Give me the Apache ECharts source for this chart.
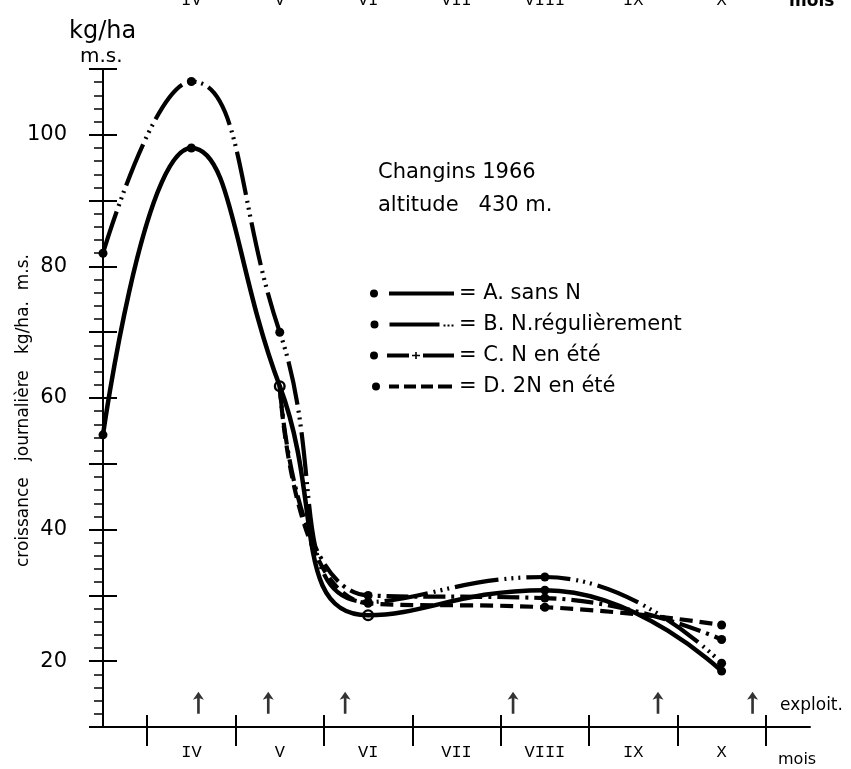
<!DOCTYPE html>
<html><head><meta charset="utf-8">
<script src="https://cdn.jsdelivr.net/npm/echarts@6/dist/echarts.min.js"></script>
<style>html,body{margin:0;padding:0;background:#fff}#c{width:851px;height:769px}</style>
</head><body><div id="c"></div><script>
// ---- data ----
const monthLabels = ['IV','V','VI','VII','VIII','IX','X'];
const monthCenters = [0.5,1.5,2.5,3.5,4.5,5.5,6.5];
const monthBounds = [0,1,2,3,4,5,6,7];
const yLabelValues = [20,40,60,80,100];
const seriesNames = ['A. sans N','B. N.régulièrement','C. N en été','D. 2N en été'];
const xA = [-0.5,0.5,1.5,2.5,4.5,6.5];
const valA = [54.4,98.0,61.8,27.0,30.8,18.5];
const xB = [-0.5,0.5,1.5,2.5,4.5,6.5];
const valB = [82.0,108.1,70.0,29.0,32.8,19.7];
const xC = [1.5,2.5,4.5,6.5];
const valC = [61.8,30.0,29.6,23.3];
const xD = [1.5,2.5,4.5,6.5];
const valD = [61.8,28.8,28.2,25.5];
const exploitX = [0.58,1.37,2.24,4.14,5.78,6.85];
const exploitY = 13.7;
const ringMonths = [1.5,2.5];

// ---- build ----
const FONT = 'DejaVu Sans';
const ring = 'path://M0,-10A10,10 0 1,1 0,10A10,10 0 1,1 0,-10Z M0,-6A6,6 0 1,0 0,6A6,6 0 1,0 0,-6Z M0,-3A3,3 0 1,1 0,3A3,3 0 1,1 0,-3Z';
function pts(xs, vs, opts) {
  return xs.map((x, i) => {
    const o = {value: [x, vs[i]]};
    if (opts && opts.ring && ringMonths.indexOf(x) >= 0) { o.symbol = ring; o.symbolSize = 12; }
    if (opts && opts.hideFirst && i === 0) { o.symbol = 'none'; }
    return o;
  });
}
const icons = [
  'path://M0,5A4,4 0 1,1 8,5A4,4 0 1,1 0,5Z M19,3H84V7H19Z',
  'path://M0,5A4,4 0 1,1 8,5A4,4 0 1,1 0,5Z M19,3H69V7H19Z M73,5H75V7H73Z M77,5H79V7H77Z M81,5H83V7H81Z',
  'path://M0,5A4,4 0 1,1 8,5A4,4 0 1,1 0,5Z M17,3H39V7H17Z M42,4.2H50V5.8H42Z M45.2,1.5H46.8V8.5H45.2Z M53,3H84V7H53Z',
  'path://M0,5A4,4 0 1,1 8,5A4,4 0 1,1 0,5Z M17,3H27V7H17Z M32,3H44V7H32Z M49,3H61V7H49Z M66,3H80V7H66Z'
];
const lineTypes = ['solid', [44,6,2,5,2,5,2,6], [22,6,3,6], [13,7]];
const dataSets = [pts(xA,valA,{ring:true}), pts(xB,valB), pts(xC,valC,{hideFirst:true}), pts(xD,valD,{hideFirst:true})];

const series = seriesNames.map((n, i) => ({
  name: n, type: 'line', smooth: 0.5, data: dataSets[i],
  symbol: 'circle', symbolSize: 9, showSymbol: true,
  itemStyle: {color: '#000'},
  lineStyle: {color: '#000', width: i === 0 ? 4.5 : 4.2, type: lineTypes[i], cap: 'butt'},
  z: 10 - i, animation: false
}));
series.push({
  name: 'exploit', type: 'scatter', data: exploitX.map(x => [x, exploitY]),
  symbol: 'path://M5,0L10,8L6.2,6.5V22H3.8V6.5L0,8Z', symbolSize: [11, 22],
  itemStyle: {color: '#000'}, animation: false, silent: true
});

const xBase = {type: 'value', min: -0.5, max: 7.5, splitLine: {show: false}, gridIndex: 0};
const yBase = {type: 'value', min: 10, max: 110, interval: 10, splitLine: {show: false}};

const option = {
  backgroundColor: '#fff',
  animation: false,
  grid: {left: 103, right: 41, top: 69, bottom: 42, containLabel: false, outerBoundsMode: 'none'},
  xAxis: [
    Object.assign({}, xBase, {
      position: 'bottom',
      axisLine: {show: true, onZero: false, lineStyle: {color: '#000', width: 2}},
      axisTick: {show: true, customValues: monthBounds, length: 19, lineStyle: {color: '#000', width: 2}},
      axisLabel: {customValues: monthCenters, formatter: v => monthLabels[Math.round(v - 0.5)],
        fontFamily: 'Liberation Mono', fontSize: 17, color: '#000', margin: 17}
    }),
    Object.assign({}, xBase, {
      position: 'bottom',
      axisLine: {show: false, onZero: false},
      axisTick: {show: true, inside: true, customValues: monthBounds, length: 12, lineStyle: {color: '#000', width: 2}},
      axisLabel: {show: false}
    }),
    Object.assign({}, xBase, {
      position: 'top',
      axisLine: {show: false, onZero: false},
      axisTick: {show: false},
      axisLabel: {customValues: monthCenters, formatter: v => monthLabels[Math.round(v - 0.5)],
        fontFamily: 'Liberation Mono', fontSize: 17, color: '#000', margin: 60}
    })
  ],
  yAxis: [
    Object.assign({}, yBase, {
      position: 'left',
      axisLine: {show: true, onZero: false, lineStyle: {color: '#000', width: 2}},
      axisTick: {show: true, length: 14, lineStyle: {color: '#000', width: 2}},
      minorTick: {show: true, splitNumber: 5, length: 9, lineStyle: {color: '#000', width: 1.5}},
      axisLabel: {formatter: v => yLabelValues.indexOf(v) >= 0 ? String(v) : '',
        fontFamily: FONT, fontSize: 21, color: '#000', margin: 36},
      name: 'croissance   journalière   kg/ha.  m.s.', nameLocation: 'middle', nameRotate: 90, nameGap: 71,
      nameMoveOverlap: false,
      nameTextStyle: {fontFamily: FONT, fontSize: 17, color: '#000', padding: [0, 0, 0, -25]}
    }),
    Object.assign({}, yBase, {
      position: 'left',
      axisLine: {show: false, onZero: false},
      axisTick: {show: true, inside: true, length: 14, lineStyle: {color: '#000', width: 2}},
      axisLabel: {show: false}
    })
  ],
  legend: {
    orient: 'vertical', left: 365, top: 278, itemWidth: 84, itemHeight: 8, itemGap: 10,
    data: seriesNames.map((n, i) => ({name: n, icon: icons[i]})),
    formatter: n => '= ' + n,
    textStyle: {fontFamily: FONT, fontSize: 21, color: '#000'},
    selectedMode: false
  },
  graphic: [
    {type: 'text', left: 69, top: 20, style: {text: 'kg/ha', font: '24px "DejaVu Sans"', fill: '#000'}},
    {type: 'text', left: 80, top: 47, style: {text: 'm.s.', font: '20px "DejaVu Sans"', fill: '#000'}},
    {type: 'text', left: 378, top: 162, style: {text: 'Changins 1966', font: '21px "DejaVu Sans"', fill: '#000'}},
    {type: 'text', left: 378, top: 195, style: {text: 'altitude   430 m.', font: '21px "DejaVu Sans"', fill: '#000'}},
    {type: 'text', left: 780, top: 697, style: {text: 'exploit.', font: '17px "DejaVu Sans"', fill: '#000'}},
    {type: 'text', left: 778, top: 752, style: {text: 'mois', font: '16px "DejaVu Sans"', fill: '#000'}},
    {type: 'text', left: 789, top: -7, style: {text: 'mois', font: 'bold 17px "DejaVu Sans"', fill: '#000'}}
  ],
  series: series
};
const chart = echarts.init(document.getElementById('c'), null, {renderer: 'canvas'});
chart.setOption(option);
</script></body></html>
